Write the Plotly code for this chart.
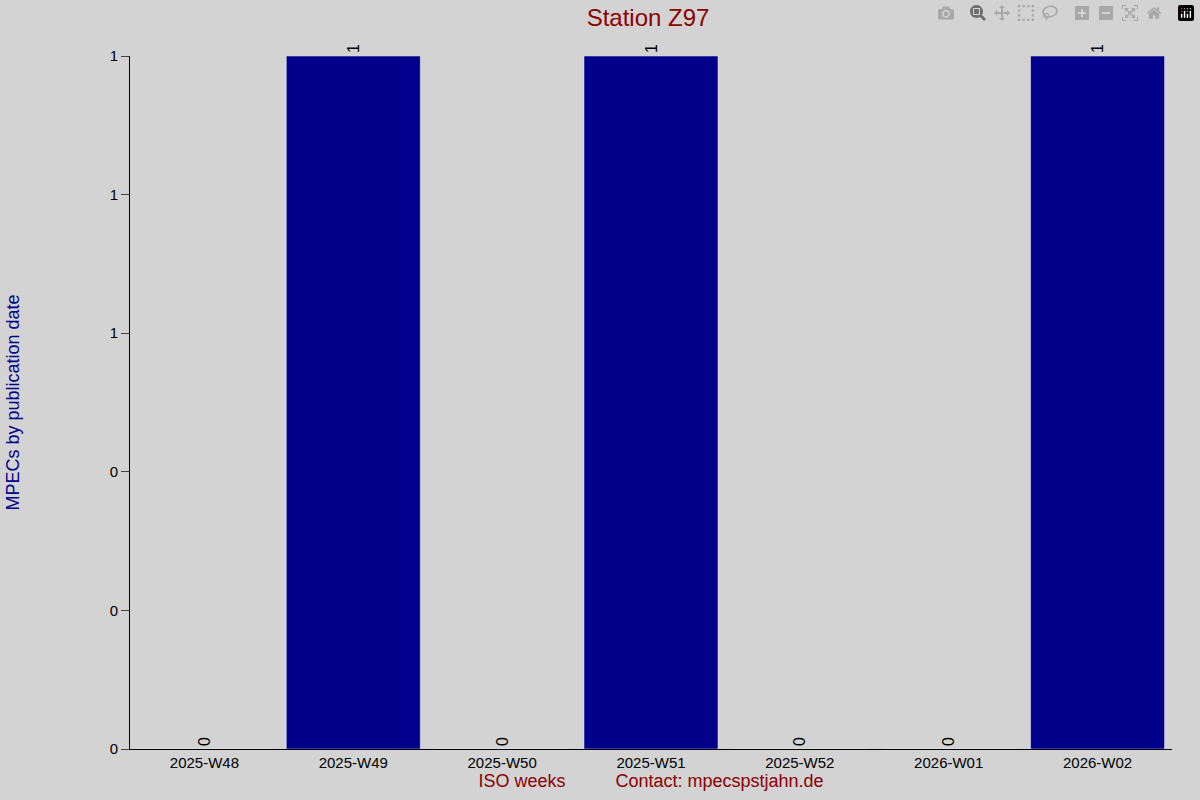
import plotly.graph_objects as go

weeks = ["2025-W48", "2025-W49", "2025-W50", "2025-W51", "2025-W52", "2026-W01", "2026-W02"]
counts = [0, 1, 0, 1, 0, 0, 1]
ytick_vals = [0, 0.2, 0.4, 0.6, 0.8, 1.0]

fig = go.Figure(go.Bar(
    x=weeks, y=counts, marker_color="#00008b", width=0.9,
    text=[str(c) for c in counts], textposition="outside", textangle=-90,
    textfont=dict(color="black", size=16), cliponaxis=False,
))
fig.update_layout(
    width=1200, height=800,
    paper_bgcolor="#d3d3d3", plot_bgcolor="#d3d3d3",
    margin=dict(l=125, r=28, t=56, b=50),
    font=dict(family="Liberation Sans, Arial", size=15, color="black"),
    title=dict(text="Station Z97", x=0.54, xanchor="center", y=0.978, yanchor="middle",
               font=dict(size=24, color="#8b0000")),
    showlegend=False, bargap=0.1,
)
fig.update_xaxes(showline=True, linecolor="black", ticks="", showgrid=False,
                 title=dict(text="ISO weeks          Contact: mpecspstjahn.de",
                            font=dict(color="#8b0000", size=18), standoff=4))
fig.update_yaxes(range=[0, 1], tickvals=ytick_vals, tickformat=".0f",
                 showline=True, linecolor="black", ticks="outside", ticklen=8,
                 showgrid=False, zeroline=False,
                 title=dict(text="MPECs by publication date", font=dict(color="#00008b", size=18),
                            standoff=85))
fig.write_html("out.html", post_script="document.body.style.margin='0';document.body.style.background='#d3d3d3';")
